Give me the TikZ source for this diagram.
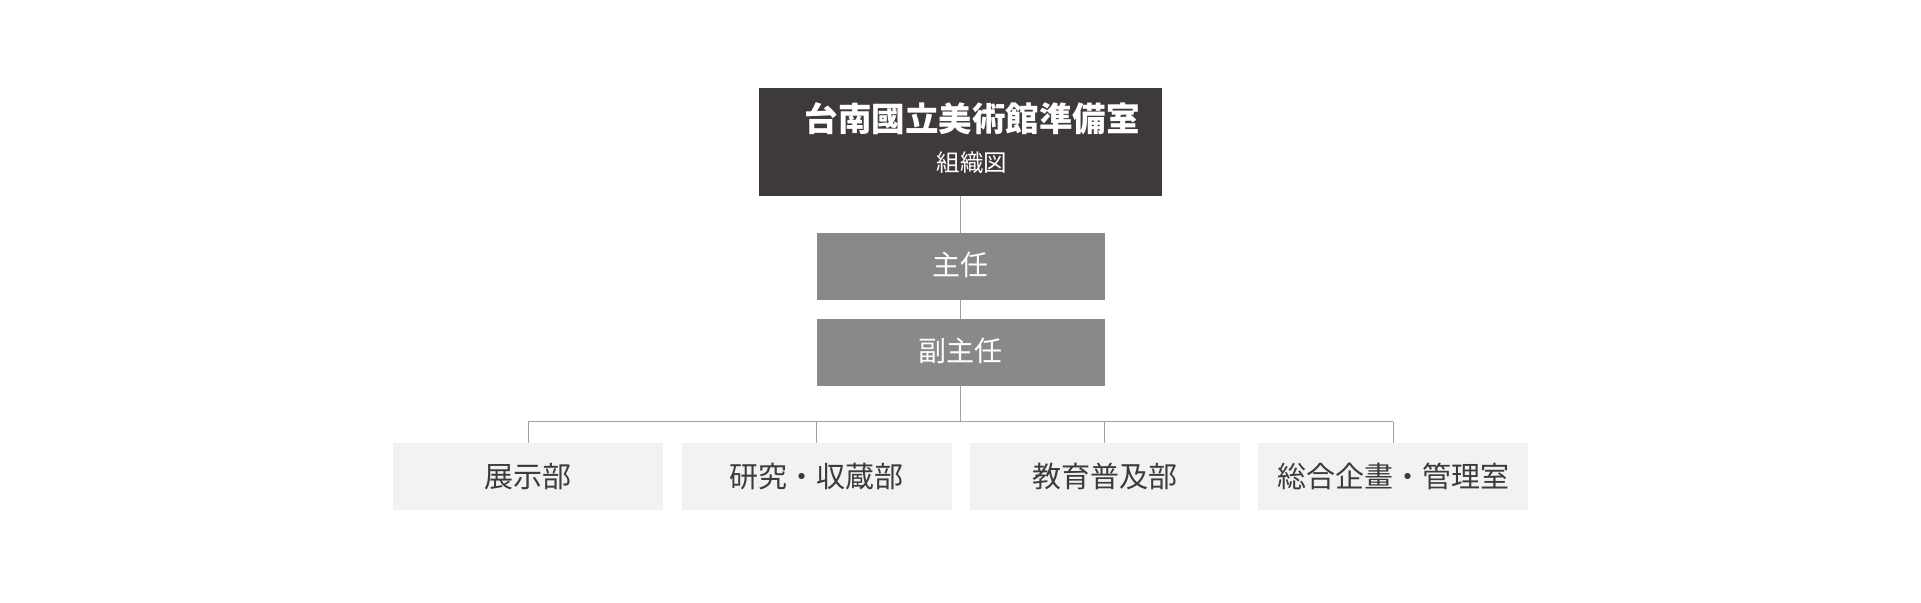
\documentclass[tikz,border=0pt]{standalone}
\usepackage{fontspec}
\usepackage{tikz}
\setmainfont{Noto Sans CJK JP}
\definecolor{headgray}{HTML}{3E3A3A}
\definecolor{midgray}{HTML}{898989}
\definecolor{lightgray}{HTML}{F2F2F2}
\definecolor{linegray}{HTML}{A0A0A0}
\begin{document}
\begin{tikzpicture}[x=1pt, y=-1pt,
  box/.style={rectangle, inner sep=0pt, minimum width=270pt, minimum height=67.5pt},
  headbox/.style={box, fill=headgray, minimum width=403pt, minimum height=108pt},
  midbox/.style={box, fill=midgray, minimum width=288pt, text=white, font=\fontsize{28}{30}\selectfont, text depth=5pt},
  deptbox/.style={box, fill=lightgray, text=headgray, font=\fontsize{29}{31}\selectfont, text depth=3pt},
  link/.style={draw=linegray, line width=1pt}]
\useasboundingbox (0,0) rectangle (1921,602);
% top
\node[headbox] (head) at (960.5,141.5) {};
\node[text=white, font=\bfseries\fontsize{33.5}{36}\selectfont] (headtitle) at (972,119) {台南國立美術館準備室};
\node[text=white, font=\fontsize{23.5}{25}\selectfont] (headsub) at (972,163) {組織図};
% chief and deputy
\node[midbox] (chief) at (960.5,266.5) {主任};
\node[midbox] (vice) at (960.5,352.5) {副主任};
% departments
\node[deptbox] (dept1) at (528.3,476.5) {展示部};
\node[deptbox] (dept2) at (816.5,476.5) {研究・収蔵部};
\node[deptbox] (dept3) at (1104.7,476.5) {教育普及部};
\node[deptbox] (dept4) at (1393,476.5) {総合企畫・管理室};
\coordinate (bus) at (960.5,421.7);
% connectors
\draw[link] (head.south) -- (chief.north);
\draw[link] (chief.south) -- (vice.north);
\draw[link] (vice.south) -- (bus);
\draw[link] (dept1.north |- bus) -- (dept4.north |- bus);
\draw[link] (dept1.north |- bus) -- (dept1.north);
\draw[link] (dept2.north |- bus) -- (dept2.north);
\draw[link] (dept3.north |- bus) -- (dept3.north);
\draw[link] (dept4.north |- bus) -- (dept4.north);
\end{tikzpicture}
\end{document}
